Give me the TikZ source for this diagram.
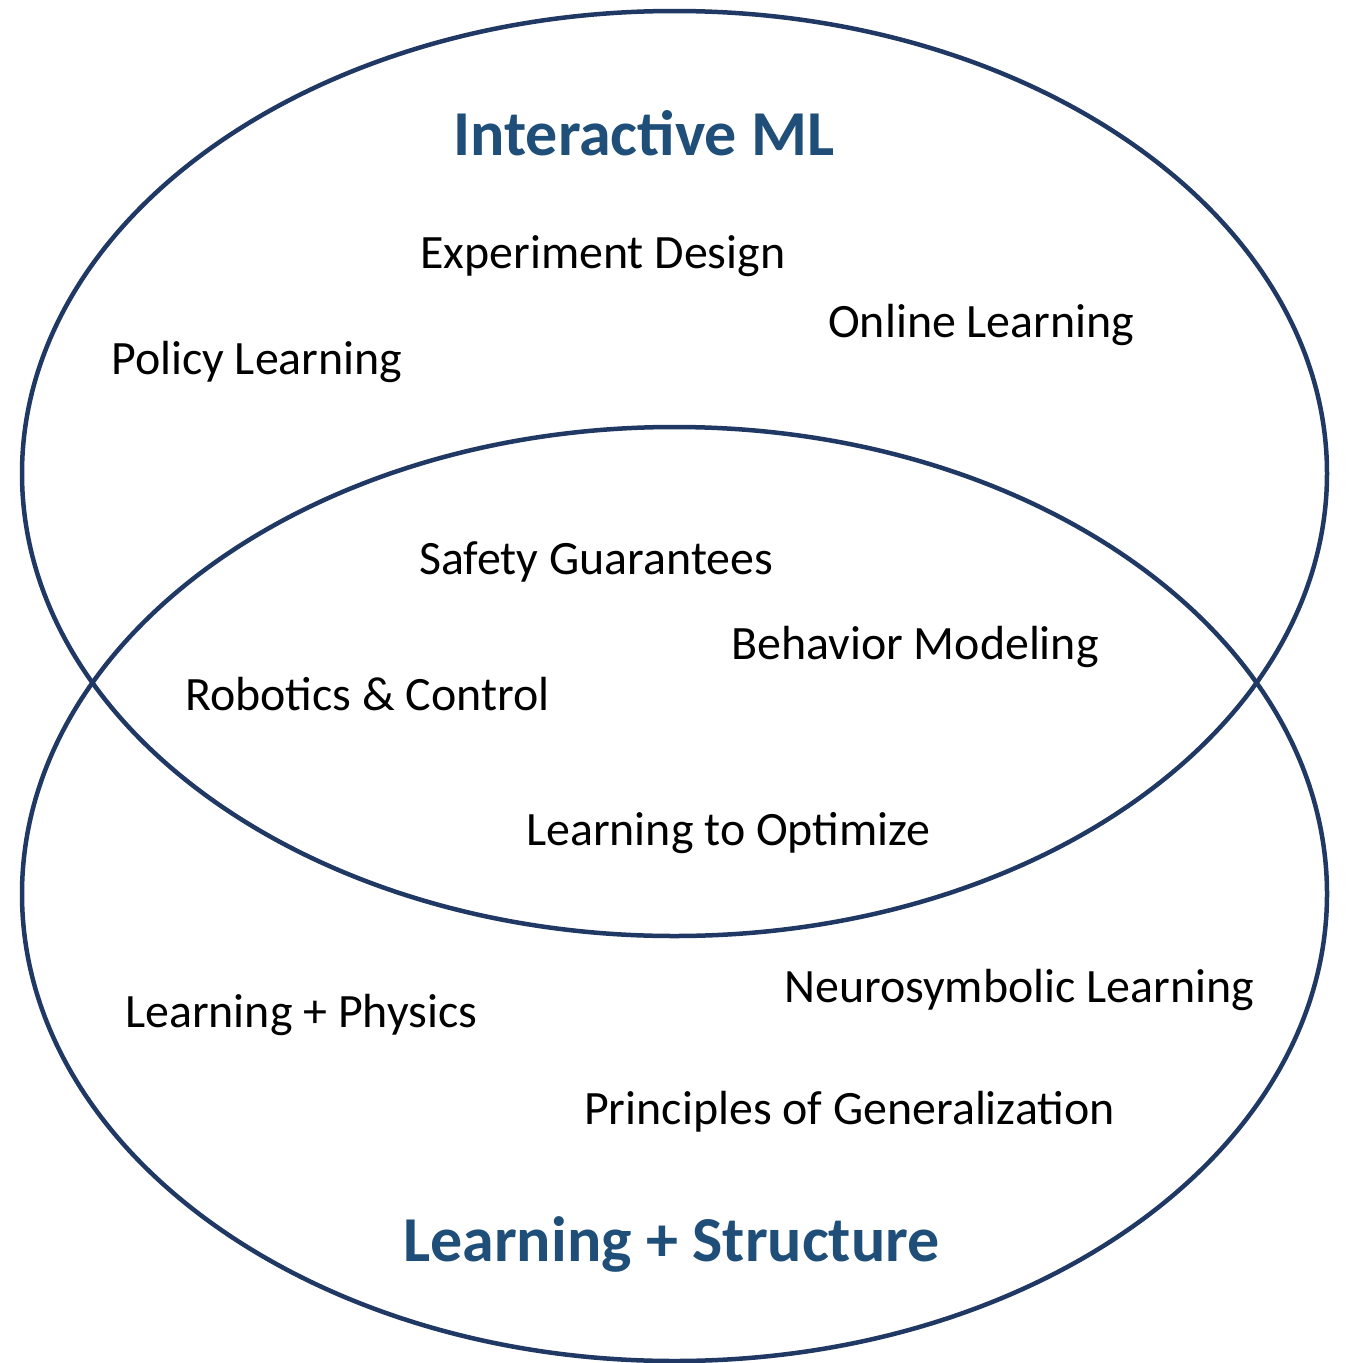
\documentclass[tikz,border=0pt]{standalone}
\usepackage{fontspec}
\setmainfont{Carlito}
\definecolor{rimblue}{HTML}{203864}
\definecolor{headblue}{HTML}{1F4E79}
\begin{document}
\begin{tikzpicture}[x=1pt,y=-1pt,
  rim/.style={draw=rimblue,line width=4.5pt},
  topic/.style={anchor=base west,inner sep=0pt,font=\fontsize{47.9}{50}\selectfont},
  heading/.style={anchor=base,inner sep=0pt,text=headblue,font=\fontsize{64}{67}\selectfont\bfseries}]
\useasboundingbox (0,0) rectangle (1345,1363);
\fill[white] (0,0) rectangle (1345,1363);
% the two overlapping fields
\draw[rim] (674.5,473.5) ellipse [x radius=652.5, y radius=462.5];
\draw[rim] (674.5,894) ellipse [x radius=652.5, y radius=467];
% field headings
\node[heading] (iml) at (644,155) {Interactive ML};
\node[heading] (ls) at (671.5,1261) {Learning + Structure};
% topics
\node[topic] (exp) at (420,268) {Experiment Design};
\node[topic] (onl) at (828,337) {Online Learning};
\node[topic] (pol) at (111,374) {Policy Learning};
\node[topic] (saf) at (419,574) {Safety Guarantees};
\node[topic] (beh) at (731,659) {Behavior Modeling};
\node[topic] (rob) at (185,710) {Robotics \& Control};
\node[topic] (lto) at (526,845) {Learning to Optimize};
\node[topic] (neu) at (784,1002) {Neurosymbolic Learning};
\node[topic] (phy) at (125,1027) {Learning + Physics};
\node[topic] (gen) at (584,1124) {Principles of Generalization};
\end{tikzpicture}
\end{document}
